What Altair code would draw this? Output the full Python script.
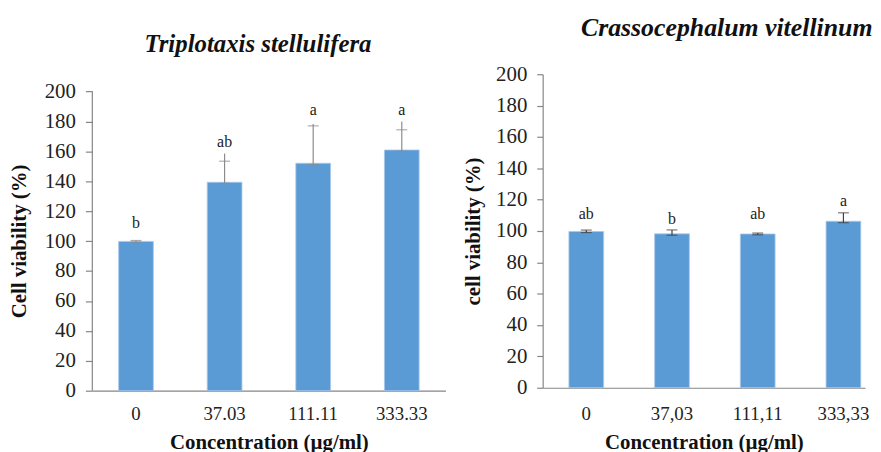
import altair as alt
import pandas as pd

FONT = "Liberation Serif"

# ---- Left panel: Triplotaxis stellulifera ----
left_cats = ["0", "37.03", "111.11", "333.33"]
left_mean = [99.8, 139.3, 152.0, 160.9]
left_lo = [99.3, 138.6, 151.2, 160.0]
left_cap = [100.4, 153.4, 177.0, 174.4]
left_top = [100.4, 158.5, 178.3, 180.0]
left_letters = ["b", "ab", "a", "a"]
left_letter_y = [108.8, 163.0, 184.0, 184.0]

# ---- Right panel: Crassocephalum vitellinum ----
right_cats = ["0", "37,03", "111,11", "333,33"]
right_mean = [99.7, 98.2, 98.1, 106.2]
right_lo = [99.0, 97.3, 97.6, 105.3]
right_hi = [100.6, 100.7, 98.7, 111.6]
right_letters = ["ab", "b", "ab", "a"]
right_letter_y = [107.6, 104.4, 107.6, 116.0]

tick_values = list(range(0, 201, 20))

BAR = "#5B9BD5"
AXIS = "#868686"


def panel(cats, mean, lo, cap, top, letters, letter_y, title, ytitle,
          width, height, ymax, pad_in, pad_out, align, err_color,
          title_size, title_dx, title_offset, ylabel_size, ytitle_pad, ytick,
          xlabel_pad, xtitle_pad, own_domain, ytitle_y):
    df = pd.DataFrame({
        "cat": cats, "mean": mean, "lo": lo, "cap": cap, "top": top,
        "letter": letters, "ly": letter_y,
    })
    x = alt.X("cat:N", sort=cats,
              scale=alt.Scale(paddingInner=pad_in, paddingOuter=pad_out, align=align),
              axis=alt.Axis(title="Concentration (µg/ml)", labelAngle=0, ticks=False,
                            domainColor=AXIS, domainWidth=1.2,
                            labelFont=FONT, labelFontSize=19, labelColor="#222222",
                            labelPadding=xlabel_pad,
                            titleFont=FONT, titleFontSize=21, titleFontWeight="bold",
                            titleColor="#111111", titlePadding=xtitle_pad))
    yscale = alt.Scale(domain=[0, ymax], nice=False)
    axis_kw = dict(values=tick_values, grid=False, labelOverlap=False,
                   title=ytitle, domain=not own_domain, domainColor=AXIS,
                   domainWidth=1.2, tickColor=AXIS, tickSize=ytick, tickWidth=1.2,
                   labelFont=FONT, labelFontSize=ylabel_size,
                   labelColor="#222222", labelPadding=10,
                   titleFont=FONT, titleFontSize=21, titleFontWeight="bold",
                   titleColor="#111111", titlePadding=ytitle_pad)
    if ytitle_y is not None:
        axis_kw["titleY"] = ytitle_y
    yaxis = alt.Axis(**axis_kw)

    base = alt.Chart(df).encode(x=x)
    bars = base.mark_bar(color=BAR, stroke="#A9C8EA", strokeWidth=0.8).encode(
        y=alt.Y("mean:Q", scale=yscale, axis=yaxis))
    rule = base.mark_rule(color=err_color, strokeWidth=1.2).encode(
        y=alt.Y("lo:Q", scale=yscale, axis=yaxis), y2="top:Q")
    cap_hi = base.mark_tick(color=err_color, size=11, thickness=1.2).encode(
        y=alt.Y("cap:Q", scale=yscale, axis=yaxis))
    cap_lo = base.mark_tick(color=err_color, size=11, thickness=1.2).encode(
        y=alt.Y("lo:Q", scale=yscale, axis=yaxis))
    text = base.mark_text(font=FONT, fontSize=16, baseline="alphabetic",
                          color="#222222").encode(
        y=alt.Y("ly:Q", scale=yscale, axis=yaxis), text="letter:N")
    layers = [bars, rule, cap_hi, cap_lo, text]
    if own_domain:
        # y-axis line drawn only over the 0-200 tick range
        dom = alt.Chart(pd.DataFrame({"a": [tick_values[0]], "b": [tick_values[-1]]})).mark_rule(
            color=AXIS, strokeWidth=1.2).encode(
            x=alt.value(0),
            y=alt.Y("a:Q", scale=yscale, axis=yaxis), y2="b:Q")
        layers.append(dom)
    return alt.layer(*layers).properties(
        width=width, height=height,
        title=alt.TitleParams(text=title, font=FONT, fontSize=title_size,
                              fontWeight="bold", fontStyle="italic", color="#111111",
                              anchor="middle", dx=title_dx, offset=title_offset),
    )


left = panel(left_cats, left_mean, left_lo, left_cap, left_top, left_letters,
             left_letter_y, "Triplotaxis stellulifera", "Cell viability (%)",
             356, 319, 211.5, 0.608, 0.297, 0.5, "#8C8C8C", 25, -11, 17, 21, 15, 7,
             14, 8, True, 168)

right = panel(right_cats, right_mean, right_lo, right_hi, right_hi, right_letters,
              right_letter_y, "Crassocephalum vitellinum", "cell viability (%)",
              325, 316, 200, 0.595, 0.178, 0.86, "#404040", 26, 23, 23, 21, 12, 6,
              17, 8, False, None)

chart = alt.hconcat(left, right, spacing=17).properties(
    padding={"left": 0, "top": 5, "right": 0, "bottom": 0},
    background="white",
).configure_view(stroke=None)

chart.save("out.html", embed_options={"renderer": "svg", "actions": False})
